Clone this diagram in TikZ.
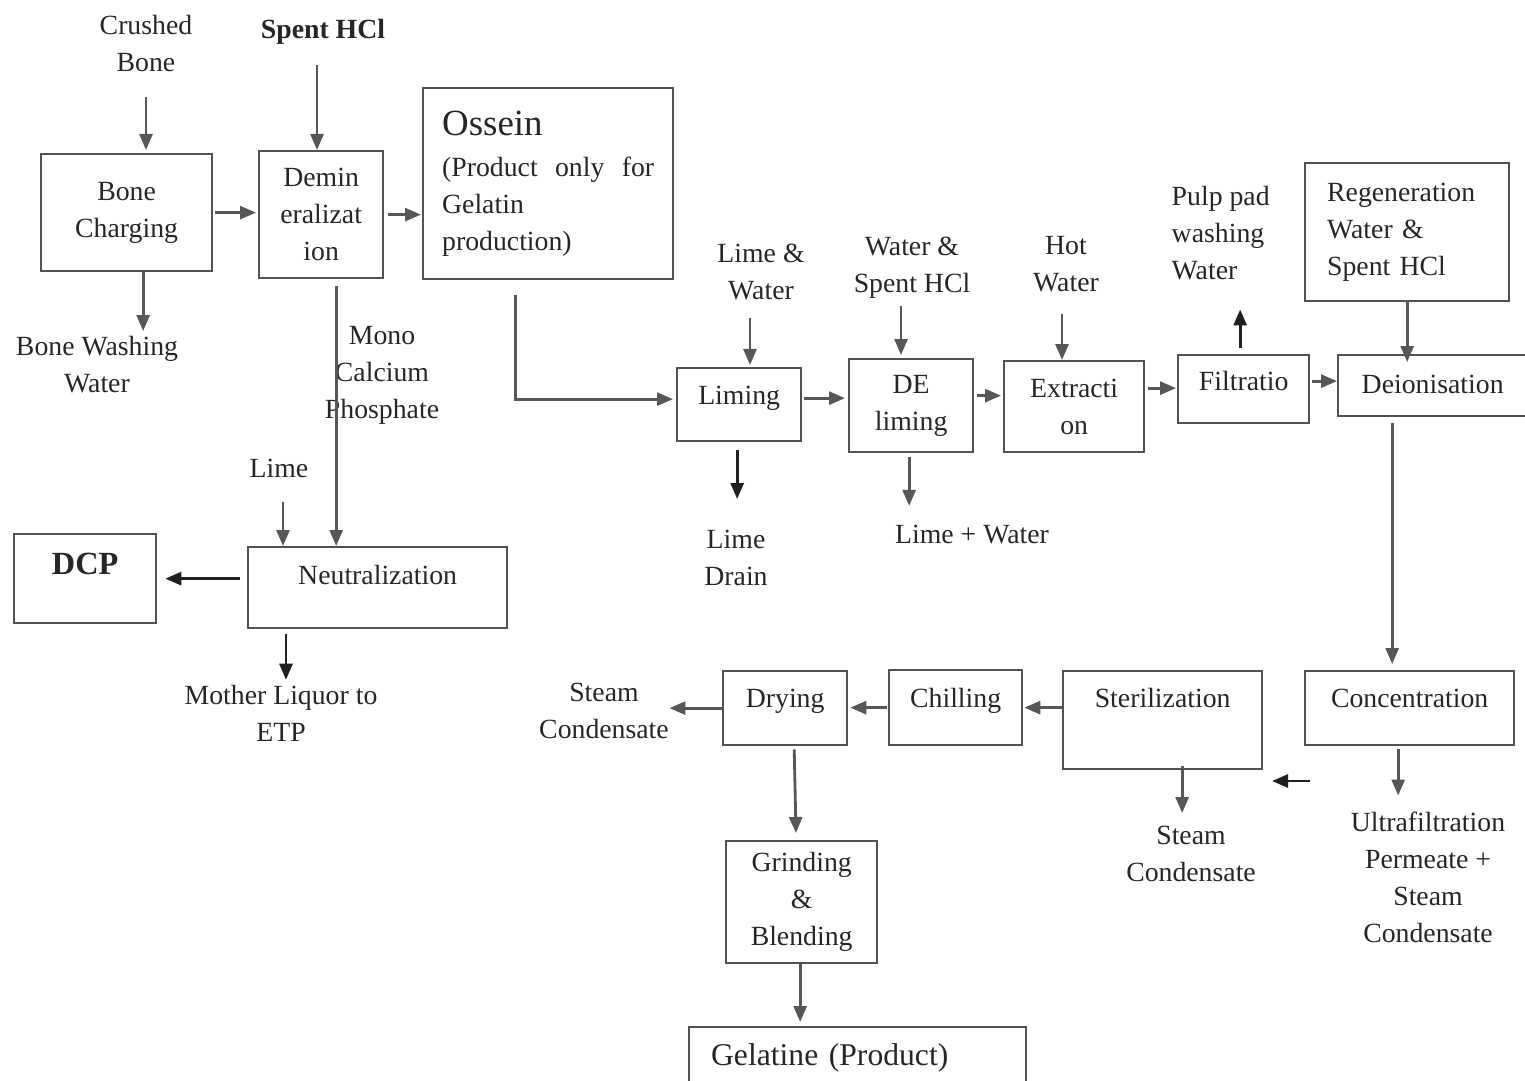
\documentclass[tikz,border=0pt]{standalone}
\usepackage{fontspec}
\setmainfont{Liberation Serif}
\usetikzlibrary{arrows.meta}
\newcommand{\spreadgap}{\hskip 0.25em plus 1filll\relax}

\tikzset{
	stage/.style={draw=black!68, line width=0.65pt, inner sep=0pt, anchor=north west, text=black!85},
	note/.style={inner sep=0.5mm, align=center, text=black!85},
	flow/.style={draw=black!66, line width=0.8pt, -{Triangle[length=1.6mm,width=1.3mm]}},
	darkflow/.style={flow, draw=black!88},
}

\begin{document}
\begin{tikzpicture}[font=\fontsize{7.9}{10.5}\selectfont]
		%%%%% START %%%%%
		\useasboundingbox (0,0) rectangle (15.25,-10.8);
		
		% bone side
		\node[stage, minimum width=1.71cm, minimum height=1.17cm, align=center] (charge) at (0.40,-1.53) {Bone\\Charging};
		\node[stage, minimum width=1.24cm, minimum height=1.27cm, align=center] (demin) at (2.58,-1.50) {Demin\\eralizat\\ion};
		\node[stage, minimum height=1.91cm, text width=2.12cm, inner xsep=1.9mm, align=left] (ossein) at (4.22,-0.87) {{\fontsize{10.5}{12}\selectfont Ossein}\\[0.5mm](Product\spreadgap only\spreadgap for\\Gelatin\\production)};
		\node[stage, minimum width=2.59cm, text height=3.7mm, text depth=4.4mm] (neut) at (2.47,-5.46) {Neutralization};
		\node[stage, minimum width=1.42cm, text height=4.0mm, text depth=4.9mm, font=\fontsize{9.2}{11}\selectfont\bfseries] (dcp) at (0.13,-5.33) {DCP};
		
		\node[note] (crushed) at (1.46,-0.435) {Crushed\\Bone};
		\node[note, font=\fontsize{7.9}{10.5}\selectfont\bfseries] (spent) at (3.23,-0.32) {Spent HCl};
		\node[note] (wash) at (0.97,-3.65) {Bone Washing\\Water};
		\node[note] (mcp) at (3.82,-3.75) {Mono\\Calcium\\Phosphate};
		\node[note] (lime) at (2.79,-4.68) {Lime};
		\node[note] (liquor) at (2.81,-7.135) {Mother Liquor to\\ETP};
		
		% gelatin line
		\node[stage, minimum width=1.24cm, text height=3.6mm, text depth=3.7mm] (liming) at (6.76,-3.67) {Liming};
		\node[stage, minimum width=1.24cm, minimum height=0.93cm, align=center] (delim) at (8.48,-3.58) {DE\\liming};
		\node[stage, minimum width=1.40cm, minimum height=0.91cm, align=center] (extract) at (10.03,-3.60) {Extracti\\on};
		\node[stage, minimum width=1.31cm, text height=3.5mm, text depth=3.3mm] (filt) at (11.77,-3.54) {Filtratio};
		\node[stage, minimum height=1.38cm, text width=1.60cm, inner xsep=2.2mm, align=left] (regen) at (13.04,-1.62) {Regeneration\\Water \&\\Spent HCl};
		\node[stage, draw=none, minimum width=1.87cm, text height=3.7mm, text depth=2.2mm] (deion) at (13.38,-3.55) {Deionisation};
		\draw[draw=black!68, line width=0.65pt] (deion.north east) -- (deion.north west) -- (deion.south west) -- (deion.south east);
		
		\node[stage, minimum width=2.09cm, text height=3.6mm, text depth=3.8mm] (conc) at (13.04,-6.70) {Concentration};
		\node[stage, minimum width=1.99cm, text height=3.6mm, text depth=6.2mm] (steril) at (10.62,-6.70) {Sterilization};
		\node[stage, minimum width=1.33cm, text height=3.7mm, text depth=3.8mm] (chill) at (8.88,-6.69) {Chilling};
		\node[stage, minimum width=1.24cm, text height=3.6mm, text depth=3.8mm] (dry) at (7.22,-6.70) {Drying};
		\node[stage, minimum width=1.51cm, minimum height=1.22cm, align=center] (grind) at (7.25,-8.40) {Grinding\\\&\\Blending};
		\node[stage, text width=2.93cm, inner xsep=2.2mm, align=left, text height=3.8mm, text depth=4mm, font=\fontsize{9}{11}\selectfont] (gel) at (6.88,-10.26) {\mbox{Gelatine (Product)}};
		
		\node[note] (limew) at (7.61,-2.72) {Lime \&\\Water};
		\node[note] (wsh) at (9.12,-2.68) {Water \&\\Spent HCl};
		\node[note] (hot) at (10.66,-2.64) {Hot\\Water};
		\node[note, align=left, anchor=west] (pulp) at (11.66,-2.33) {Pulp pad\\washing\\Water};
		\node[note] (drain) at (7.36,-5.575) {Lime\\Drain};
		\node[note] (lplus) at (9.72,-5.35) {Lime + Water};
		\node[note] (steam1) at (6.04,-7.105) {Steam\\Condensate};
		\node[note] (steam2) at (11.91,-8.535) {Steam\\Condensate};
		\node[note] (ultra) at (14.28,-8.775) {Ultrafiltration\\Permeate +\\Steam\\Condensate};
		
		% arrows, bone side
		\draw[flow, shorten <=2mm, shorten >=0.3mm] (crushed) -- (crushed |- charge.north);
		\draw[flow, shorten <=1.5mm] ([xshift=-0.6mm]spent.south) -- ([xshift=-0.6mm]spent.south |- demin.north);
		\draw[flow, shorten <=0.2mm, shorten >=0.2mm] (charge.east) -- (charge.east -| demin.west);
		\draw[flow, shorten <=0.4mm, shorten >=0.1mm] (demin.east) -- (demin.east -| ossein.west);
		\draw[flow] ([xshift=1.65mm]charge.south) -- ([xshift=1.65mm]charge.south |- wash.north);
		\draw[flow, shorten <=0.7mm] ([xshift=1.5mm]demin.south) -- ([xshift=1.5mm]demin.south |- neut.north);
		\draw[flow, shorten <=1.9mm] ([xshift=0.4mm]lime.south) -- ([xshift=0.4mm]lime.south |- neut.north);
		\draw[darkflow, shorten <=0.7mm, shorten >=0.8mm] (neut.west |- dcp.east) -- (dcp.east);
		\draw[darkflow, shorten <=0.5mm] ([xshift=0.5mm]liquor.north |- neut.south) -- ([xshift=0.5mm]liquor.north);
		
		% arrows, gelatin line
		\draw[flow, shorten >=0.3mm] ([xshift=-3.3mm,yshift=-1.5mm]ossein.south) |- ([yshift=0.55mm]liming.west);
		\draw[flow, shorten <=1.2mm, shorten >=0.2mm] ([xshift=-1.1mm]limew.south) -- ([xshift=-1.1mm]limew.south |- liming.north);
		\draw[darkflow, shorten <=0.8mm, shorten >=2.5mm] ([xshift=-0.2mm]liming.south) -- ([xshift=-0.2mm]liming.south |- drain.north);
		\draw[flow, shorten <=0.2mm, shorten >=0.3mm] ([yshift=0.65mm]liming.east) -- ([yshift=0.65mm]liming.east -| delim.west);
		\draw[flow, shorten <=0.2mm, shorten >=0.3mm] ([xshift=-1.1mm]wsh.south) -- ([xshift=-1.1mm]wsh.south |- delim.north);
		\draw[flow, shorten <=0.4mm, shorten >=1.4mm] ([xshift=-0.2mm]delim.south) -- ([xshift=-0.2mm]delim.south |- lplus.north);
		\draw[flow, shorten <=0.3mm, shorten >=0.2mm] ([yshift=1mm]delim.east) -- ([yshift=1mm]delim.east -| extract.west);
		\draw[flow, shorten <=1.7mm] ([xshift=-0.4mm]hot.south) -- ([xshift=-0.4mm]hot.south |- extract.north);
		\draw[flow, shorten <=0.3mm, shorten >=0.1mm] ([yshift=1.85mm]extract.east) -- ([yshift=1.85mm]extract.east -| filt.west);
		\draw[darkflow, shorten <=0.6mm, shorten >=2.4mm] ([xshift=-0.35mm]filt.north) -- ([xshift=-0.35mm]filt.north |- pulp.south);
		\draw[flow, shorten <=0.2mm, shorten >=0.1mm] ([yshift=0.8mm]filt.east) -- ([yshift=0.8mm]filt.east -| deion.west);
		\draw[flow, shorten >=-0.7mm] (regen.south) -- (regen.south |- deion.north);
		\draw[flow, shorten <=0.7mm, shorten >=0.6mm] ([xshift=-1.75mm]conc.north |- deion.south) -- ([xshift=-1.75mm]conc.north);
		\draw[flow, shorten <=0.3mm, shorten >=1.1mm] ([xshift=-1.15mm]conc.south) -- ([xshift=-1.15mm]conc.south |- ultra.north);
		
		\coordinate (backtail) at (13.10,-7.81);
		\coordinate (backhead) at (12.72,-7.81);
		\draw[darkflow] (backtail) -- (backhead);
		
		\draw[flow, shorten <=-0.4mm, shorten >=0.7mm] ([xshift=1.95mm]steril.south) -- ([xshift=1.95mm]steril.south |- steam2.north);
		\draw[flow, shorten >=0.1mm] (steril.west |- chill.east) -- (chill.east);
		\draw[flow, shorten <=0.1mm, shorten >=0.2mm] (chill.west) -- (chill.west -| dry.east);
		\draw[flow, shorten >=-0.5mm] (dry.west) -- (dry.west -| steam1.east);
		\draw[flow, shorten <=0.3mm, shorten >=0.7mm] ([xshift=0.9mm]dry.south) -- ([xshift=-0.55mm]grind.north);
		\draw[flow, shorten >=0.4mm] ([xshift=-0.15mm]grind.south) -- ([xshift=-0.15mm]grind.south |- gel.north);
		
		%%%%% END %%%%%
\end{tikzpicture}
\end{document}
